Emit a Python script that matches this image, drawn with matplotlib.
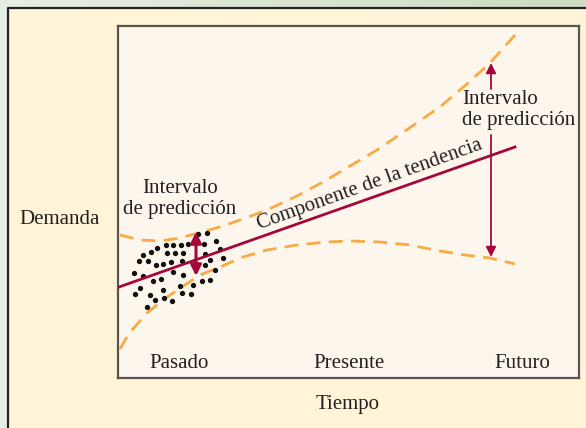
import numpy as np
import matplotlib
matplotlib.use("Agg")
from matplotlib import pyplot as plt
from matplotlib.patches import Rectangle
from matplotlib.colors import LinearSegmentedColormap

plt.rcParams['font.family'] = ['Liberation Serif', 'DejaVu Serif']

# datos (unidades arbitrarias: tiempo en x, demanda en y)
tend_x = [1, 397]
tend_y = [91, 231]

sup_x = [2, 22, 42, 62, 80, 102, 125, 149, 179, 205, 227, 259, 287, 322, 349, 372, 397]
sup_y = [143, 138, 137, 140, 145, 151, 159, 168, 182, 196, 209, 228, 247, 271, 294, 315, 343]

inf_x = [2, 7, 14, 29, 45, 64, 82, 102, 125, 149, 179, 209, 232, 262, 292, 322, 347, 372, 397]
inf_y = [29, 38, 48, 65, 78, 91, 103, 111, 121, 128, 133, 136, 137, 136, 133, 127, 123, 120, 114]

# observaciones pasadas
obs_x = [80, 89, 98, 86, 70, 63, 55, 48, 39, 33, 25, 49, 57, 65, 87, 102,
         21, 30, 38, 45, 53, 64, 92, 105, 87, 16, 25, 35, 43, 55, 65, 97,
         84, 92, 22, 32, 45, 62, 75, 37, 46, 54, 29, 64, 17, 73]
obs_y = [144, 145, 137, 134, 134, 133, 133, 133, 130, 126, 123, 125, 125, 125, 124, 129,
         117, 117, 113, 114, 116, 117, 118, 120, 113, 105, 102, 97, 99, 106, 103, 108,
         97, 98, 90, 83, 88, 92, 93, 78, 80, 77, 71, 85, 84, 84]

periodos = ['Pasado', 'Presente', 'Futuro']
periodos_x = [61, 231, 404]

naranja = '#f7aa45'
carmin = '#a5073c'
texto = '#231f20'
fs = 15

fig = plt.figure(figsize=(5.86, 4.28), dpi=100)
W, H = 586, 428

# fondo degradado verde y panel crema
bg = fig.add_axes([0, 0, 1, 1], zorder=-1)
grad = np.linspace(0, 1, 256).reshape(1, -1)
cmap = LinearSegmentedColormap.from_list('bg', ['#e7eee3', '#cddbc0'])
bg.imshow(grad, aspect='auto', cmap=cmap, extent=[0, 1, 0, 1])
x0, y0 = 8 / W, 1 - 8 / H
bg.add_patch(Rectangle((x0, 0), 1 - x0, y0, facecolor='#fff4d7', edgecolor='none'))
bg.plot([x0, x0, 1], [0, y0, y0], color='#222222', lw=1.6)
bg.set_xlim(0, 1)
bg.set_ylim(0, 1)
bg.axis('off')

ax = fig.add_axes([118 / W, (H - 378) / H, 461 / W, 352 / H])
ax.set_facecolor('#fdf6ec')
for s in ax.spines.values():
    s.set_color('#5a5550')
    s.set_linewidth(1.6)
ax.set_xlim(0, 461)
ax.set_ylim(0, 352)
ax.set_xticks([])
ax.set_yticks([])

ax.plot(sup_x, sup_y, color=naranja, lw=2.0, dashes=(5, 3))
ax.plot(inf_x, inf_y, color=naranja, lw=2.0, dashes=(5, 3))
ax.plot(tend_x, tend_y, color=carmin, lw=2.0, zorder=3)
ax.plot(obs_x, obs_y, 'o', color='#111111', ms=2.8, zorder=2)

# intervalo en el pasado
ax.annotate('', xy=(78, 146), xytext=(78, 102),
            arrowprops=dict(arrowstyle='<|-|>', color=carmin, lw=2.2,
                            mutation_scale=16, shrinkA=0, shrinkB=0), zorder=4)

# intervalo en el futuro
ax.annotate('', xy=(373, 315), xytext=(373, 289),
            arrowprops=dict(arrowstyle='-|>', color=carmin, lw=1.3,
                            mutation_scale=15, shrinkA=0, shrinkB=0))
ax.annotate('', xy=(373, 121), xytext=(373, 243),
            arrowprops=dict(arrowstyle='-|>', color=carmin, lw=1.3,
                            mutation_scale=15, shrinkA=0, shrinkB=0))

ax.text(344, 268, 'Intervalo\nde predicción', ha='left', va='center',
        fontsize=fs, color=texto, linespacing=1.12)
ax.text(62, 179, 'Intervalo\nde predicción', ha='center', va='center',
        fontsize=fs, color=texto, linespacing=1.08, multialignment='center')
ax.text(252, 193, 'Componente de la tendencia', ha='center', va='center',
        rotation=19.8, rotation_mode='anchor', fontsize=fs, color=texto)

for p, px in zip(periodos, periodos_x):
    ax.text(px, 15, p, ha='center', va='center', fontsize=fs, color=texto)

fig.text(60 / W, 1 - 220 / H, 'Demanda', ha='center', va='center',
         fontsize=fs, color=texto)
fig.text(348 / W, 1 - 405 / H, 'Tiempo', ha='center', va='center',
         fontsize=fs, color=texto)

fig.savefig('out.png', dpi=100)
